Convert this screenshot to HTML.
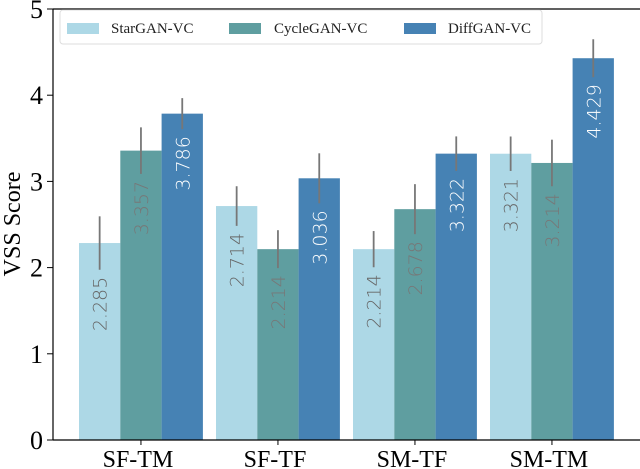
<!DOCTYPE html>
<html><head><meta charset="utf-8"><style>
html,body{margin:0;padding:0;background:#fff;}
svg{display:block;font-family:"Liberation Serif",serif;}
</style></head><body>
<svg id="chart" width="640" height="469" viewBox="0 0 640 469">
  <g id="bars"></g>
  <g id="axes"></g>
  <g>
    <rect x="60" y="10" width="482" height="34" rx="3" fill="#fff" stroke="#ddd" stroke-width="1"/>
    <rect x="67" y="23" width="32" height="11" fill="#add8e6"/>
    <text x="111" y="33" font-size="15" fill="#222">StarGAN-VC</text>
    <rect x="229" y="23" width="32" height="11" fill="#5f9ea0"/>
    <text x="274" y="33" font-size="15" fill="#222">CycleGAN-VC</text>
    <rect x="404" y="23" width="32" height="11" fill="#4682b4"/>
    <text x="448" y="33" font-size="15" fill="#222">DiffGAN-VC</text>
  </g>
  <text transform="translate(20,224) rotate(-90)" text-anchor="middle" font-size="24" fill="#000">VSS  Score</text>
</svg>
<script>
const categories = ["SF-TM","SF-TF","SM-TF","SM-TM"];
const seriesNames = ["StarGAN-VC","CycleGAN-VC","DiffGAN-VC"];
const starVals = [2.285, 2.714, 2.214, 3.321];
const cycleVals = [3.357, 2.214, 2.678, 3.214];
const diffVals = [3.786, 3.036, 3.322, 4.429];
const starErr = [0.31, 0.23, 0.21, 0.20];
const cycleErr = [0.27, 0.22, 0.29, 0.27];
const diffErr = [0.18, 0.29, 0.20, 0.22];
const yTicks = [0,1,2,3,4,5];

const NS = "http://www.w3.org/2000/svg";
const y0 = 440, yUnit = 86.2;
const yScale = v => y0 - v * yUnit;
const groupStart = i => 79 + i * 137;
const barW = 41.3;
const series = [
  {vals: starVals, err: starErr, color: "#add8e6", text: "#666", key: "stargan"},
  {vals: cycleVals, err: cycleErr, color: "#5f9ea0", text: "#777", key: "cyclegan"},
  {vals: diffVals, err: diffErr, color: "#4682b4", text: "#fff", key: "diffgan"}
];
function mk(tag, attrs, parent){
  const e = document.createElementNS(NS, tag);
  for (const k in attrs) e.setAttribute(k, attrs[k]);
  parent.appendChild(e);
  return e;
}
const bars = document.getElementById("bars");
const axes = document.getElementById("axes");
categories.forEach((cat, i) => {
  series.forEach((s, j) => {
    const v = s.vals[i], er = s.err[i];
    const x = groupStart(i) + j * barW;
    const r = mk("rect", {x: x, y: yScale(v), width: barW, height: y0 - yScale(v), fill: s.color}, bars);
    
    
    const cx = x + barW / 2;
    const eb = mk("line", {x1: cx, x2: cx, y1: yScale(v + er), y2: yScale(v - er), stroke: "#777", "stroke-width": 1.8}, bars);
    
    
    const ty = yScale(v - er) + 7;
    const t = mk("text", {transform: "translate(" + (cx + 7) + "," + ty + ") rotate(-90)", "text-anchor": "end", "font-size": 19, "font-family": "DejaVu Sans, sans-serif", "font-weight": 300, fill: s.text}, bars);
    t.textContent = v.toFixed(3);
    
    
  });
  const cx = groupStart(i) + 1.5 * barW;
  const tk = mk("line", {x1: cx, x2: cx, y1: y0, y2: y0 + 5, stroke: "#000", "stroke-width": 1}, axes);
  
  
  const tl = mk("text", {x: cx - 3, y: 467, "text-anchor": "middle", "font-size": 24, fill: "#000"}, axes);
  tl.textContent = cat;
  
  
});
yTicks.forEach(v => {
  const y = yScale(v);
  const tk = mk("line", {x1: 47, x2: 53, y1: y, y2: y, stroke: "#000", "stroke-width": 1}, axes);
  
  
  const tl = mk("text", {x: 43, y: y + 9, "text-anchor": "end", "font-size": 26, fill: "#000"}, axes);
  tl.textContent = v;
  
  
});
const ls = mk("line", {x1: 53, x2: 53, y1: 9, y2: y0, stroke: "#000", "stroke-width": 1.2}, axes);


const bs = mk("line", {x1: 53, x2: 640, y1: y0, y2: y0, stroke: "#000", "stroke-width": 1.2}, axes);


const ts = mk("line", {x1: 53, x2: 640, y1: 9, y2: 9, stroke: "#000", "stroke-width": 1.2}, axes);


</script>
</body></html>
